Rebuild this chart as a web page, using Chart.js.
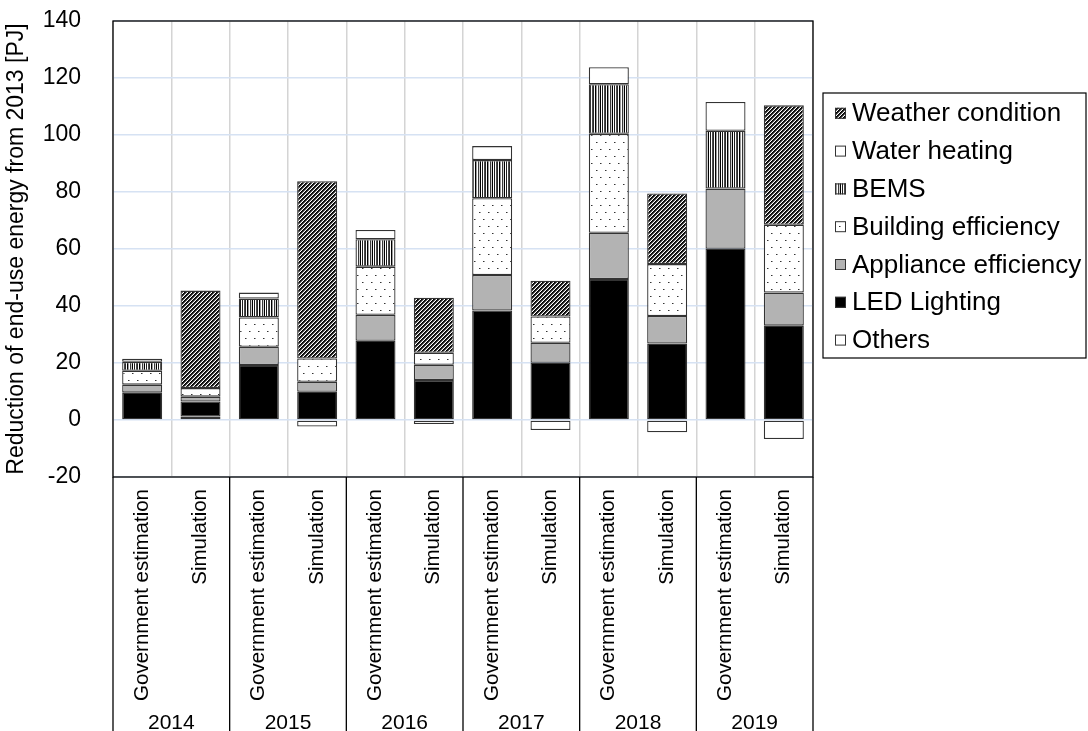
<!DOCTYPE html>
<html>
<head>
<meta charset="utf-8">
<script src="https://cdn.jsdelivr.net/npm/chart.js@4.4.1/dist/chart.umd.min.js"></script>
<style>
  html, body { margin: 0; padding: 0; background: #fff; }
  #wrap { width: 1088px; height: 731px; position: relative; }
</style>
</head>
<body>
<div id="wrap"><canvas id="c"></canvas></div>
<script>
// Categories: two estimates per year
const categories = [
  'Government estimation', 'Simulation', 'Government estimation', 'Simulation',
  'Government estimation', 'Simulation', 'Government estimation', 'Simulation',
  'Government estimation', 'Simulation', 'Government estimation', 'Simulation'
];
const years = ['2014', '2015', '2016', '2017', '2018', '2019'];
const yTicks = { min: -20, max: 140, step: 20 };

// Reduction of end-use energy by factor [PJ]
const others     = [null, 1.2, null, -2.3, null, -1.4, null, -3.5, null, -4.3, null, -6.7];
const ledLight   = [9.6, 5.3, 19.3, 9.9, 27.8, 14.0, 38.4, 20.1, 49.5, 26.8, 60.1, 33.1];
const appliance  = [2.8, 1.7, 6.4, 3.5, 9.1, 5.4, 12.5, 7.0, 16.2, 9.7, 21.1, 11.6];
const building   = [4.9, 3.0, 10.3, 8.2, 16.9, 4.2, 26.9, 9.2, 34.7, 18.2, null, 23.8];
const bems       = [3.1, null, 6.6, null, 9.6, null, 13.4, null, 17.4, null, 20.3, null];
const water      = [1.1, null, 2.1, null, 3.3, null, 4.9, null, 6.0, null, 10.1, null];
const weather    = [null, 34.2, null, 62.2, null, 19.3, null, 12.6, null, 24.8, null, 41.9];

const FONT = "'Liberation Sans', Arial, sans-serif";

// ---- fill patterns ----
function makeTile(w, h, paint) {
  const cv = document.createElement('canvas');
  cv.width = w; cv.height = h;
  const g = cv.getContext('2d');
  g.fillStyle = '#fff';
  g.fillRect(0, 0, w, h);
  paint(g);
  return document.createElement('canvas').getContext('2d').createPattern(cv, 'repeat');
}
// dense upward diagonal hatch
const weatherFill = makeTile(4, 4, g => {
  const shade = ['#000', '#1a1a1a', '#6e6e6e', '#fff'];
  for (let y = 0; y < 4; y++) for (let x = 0; x < 4; x++) {
    g.fillStyle = shade[(x + y) % 4];
    g.fillRect(x, y, 1, 1);
  }
});
// vertical stripes
const bemsFill = makeTile(12, 2, g => {
  const cols = ['#000', '#fff', '#1e1e1e', '#fff', '#4a4a4a', '#2a2a2a', '#fff', '#000', '#9a9a9a', '#fff', '#3a3a3a', '#d0d0d0'];
  cols.forEach((c, i) => { g.fillStyle = c; g.fillRect(i, 0, 1, 2); });
});
// sparse dots
const buildingFill = makeTile(9, 14, g => {
  g.fillStyle = '#333';
  g.fillRect(2, 2, 1, 1);
  g.fillRect(6, 9, 1, 1);
  g.fillStyle = '#999';
  g.fillRect(3, 2, 1, 1);
  g.fillRect(7, 9, 1, 1);
});

const EDGE = '#333';
const series = [
  { label: 'Others',               data: others,    fill: '#ffffff' },
  { label: 'LED Lighting',         data: ledLight,  fill: '#000000' },
  { label: 'Appliance efficiency', data: appliance, fill: '#b3b3b3' },
  { label: 'Building efficiency',  data: building,  fill: buildingFill },
  { label: 'BEMS',                 data: bems,      fill: bemsFill },
  { label: 'Water heating',        data: water,     fill: '#ffffff' },
  { label: 'Weather condition',    data: weather,   fill: weatherFill }
];

// Plot frame, year separators under the axis and the boxed legend
const framePlugin = {
  id: 'frame',
  afterDraw(chart) {
    const { ctx, chartArea: a } = chart;
    const H = chart.height;
    ctx.save();
    ctx.strokeStyle = '#000';
    ctx.lineWidth = 1.3;
    ctx.strokeRect(a.left, a.top, a.right - a.left, a.bottom - a.top);
    const step = (a.right - a.left) / years.length;
    for (let k = 0; k <= years.length; k++) {
      const x = a.left + k * step;
      ctx.beginPath();
      ctx.moveTo(x, a.bottom);
      ctx.lineTo(x, H);
      ctx.stroke();
    }
    // legend
    const lx = 823, ly = 93, lw = 263, lh = 265;
    ctx.lineWidth = 1.2;
    ctx.strokeRect(lx, ly, lw, lh);
    const items = chart.data.datasets.slice().reverse();
    const rowH = 37.8, y0 = 113.3;
    ctx.font = '26px ' + FONT;
    ctx.textBaseline = 'middle';
    ctx.textAlign = 'left';
    items.forEach((ds, i) => {
      const cy = y0 + i * rowH;
      ctx.fillStyle = ds.backgroundColor;
      ctx.fillRect(835, cy - 5.5, 11, 11);
      ctx.strokeStyle = EDGE;
      ctx.lineWidth = 1;
      ctx.strokeRect(835.5, cy - 5, 10, 10);
      ctx.fillStyle = '#000';
      ctx.fillText(ds.label, 852, cy + 1);
    });
    ctx.restore();
  }
};

new Chart(document.getElementById('c'), {
  type: 'bar',
  data: {
    labels: categories,
    datasets: series.map(s => ({
      label: s.label,
      data: s.data,
      backgroundColor: s.fill,
      borderColor: EDGE,
      borderWidth: 1.3,
      borderSkipped: false,
      categoryPercentage: 1.0,
      barPercentage: 0.686,
      xAxisID: 'x',
      yAxisID: 'y'
    }))
  },
  options: {
    responsive: true,
    maintainAspectRatio: false,
    animation: false,
    devicePixelRatio: 1,
    layout: { padding: { top: 21, right: 275, left: 0, bottom: 0 } },
    plugins: {
      legend: { display: false },
      tooltip: { enabled: false }
    },
    scales: {
      x: {
        type: 'category',
        position: 'bottom',
        stacked: true,
        offset: true,
        weight: 0,
        afterFit(scale) {
          scale.height = 228;
          scale.paddingLeft = 0; scale.paddingRight = 0;
          scale.paddingTop = 0; scale.paddingBottom = 0;
        },
        grid: { offset: true, color: '#d4d4d4', lineWidth: 1.5, drawTicks: false },
        border: { display: false },
        ticks: {
          autoSkip: false,
          minRotation: 90,
          maxRotation: 90,
          padding: 12,
          color: '#000',
          font: { family: FONT, size: 20.5 }
        }
      },
      xYear: {
        type: 'category',
        labels: years,
        position: 'bottom',
        offset: true,
        weight: 1,
        afterFit(scale) {
          scale.height = 26;
          scale.paddingLeft = 0; scale.paddingRight = 0;
        },
        grid: { display: false, drawTicks: false },
        border: { display: false },
        ticks: { padding: 6, color: '#000', font: { family: FONT, size: 21 } }
      },
      y: {
        stacked: true,
        min: yTicks.min,
        max: yTicks.max,
        afterFit(scale) {
          scale.width = 113;
          scale.paddingTop = 0; scale.paddingBottom = 0;
        },
        grid: { color: '#d6e2f3', lineWidth: 1.5, drawTicks: false },
        border: { display: false },
        ticks: {
          stepSize: yTicks.step,
          padding: 32,
          color: '#000',
          font: { family: FONT, size: 23 }
        },
        title: {
          display: true,
          text: 'Reduction of end-use energy from 2013 [PJ]',
          color: '#000',
          font: { family: FONT, size: 23 },
          padding: { top: 3, bottom: 0 }
        }
      }
    }
  },
  plugins: [framePlugin]
});
</script>
</body>
</html>
